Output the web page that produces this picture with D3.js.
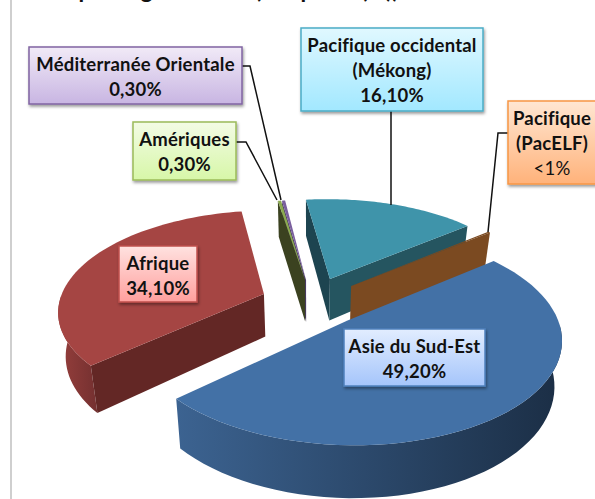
<!DOCTYPE html>
<html>
<head>
<meta charset="utf-8">
<script src="https://cdn.jsdelivr.net/npm/d3@7"></script>
<style>
html,body{margin:0;padding:0;background:#fff;overflow:hidden}
text{font-family:Lato,sans-serif;fill:#111;font-weight:700;text-anchor:middle}
</style>
</head>
<body>
<div id="container"></div>
<script>
var w = 595, h = 499;

var regions = ["Asie du Sud-Est","Afrique","Amériques","Méditerranée Orientale","Pacifique occidental","Pacifique (PacELF)"];
var values = [49.2, 34.1, 0.3, 0.3, 16.1, 0.2];
var valueLabels = ["49,20%","34,10%","0,30%","0,30%","16,10%","<1%"];
var titleText = "Cas par région OMS (sur parts (%))";

// colours of each slice: top, radial wall, outer wall left and right
var topColors = ["#4371a6","#a54543","#8cab4f","#7a5f9e","#3f94aa","#7b4a21"];
var wallColors = ["#2c4a6e","#632725","#3b4220","#4a3a66","#255560","#7b4a21"];
var rimLeft = ["#3c6391","#963f3c","#3b4220","#4a3a66","#1d4450","#7b4a21"];
var rimRight = ["#1b2e45","#743030","#3b4220","#4a3a66","#255560","#7b4a21"];

// pull of each slice out of the pie, in pie radii
var explode = [[.178,-.202],[-.228,.062],[-.025,.21],[-.02,.21],[.101,.221],[.206,.146]];

// label boxes
var boxes = [
  {i:0,x:344,y:329,w:141,h:57,lines:["Asie du Sud-Est"],stroke:"#4f81bd",c0:"#e2edff",c1:"#a5c5fb"},
  {i:1,x:119,y:246,w:78,h:56,lines:["Afrique"],stroke:"#c0504d",c0:"#ffe2e0",c1:"#ff9f9d"},
  {i:2,x:133,y:122,w:103,h:58,lines:["Amériques"],stroke:"#9bbb59",c0:"#f3fbe5",c1:"#d7f7a8"},
  {i:3,x:29,y:47,w:213,h:57,lines:["Méditerranée Orientale"],stroke:"#8064a2",c0:"#f1eaf7",c1:"#c8b5e2"},
  {i:4,x:301,y:28,w:182,h:83,lines:["Pacifique occidental","(Mékong)"],stroke:"#4bacc6",c0:"#e0f8ff",c1:"#a2e8ff"},
  {i:5,x:508,y:101,w:88,h:83,lines:["Pacifique","(PacELF)"],stroke:"#f79646",c0:"#ffe7d3",c1:"#ffb27a"}
];
var leaders = [
  [[242,66],[250,66],[281,200]],
  [[236,142],[246,142],[277,200]],
  [[391,111],[391,205]],
  [[508,133],[498,133],[488,232]]
];

var svg = d3.select("div#container").append("svg").attr("width", w).attr("height", h);
var defs = svg.append("defs");

defs.append("filter").attr("id","shadow").attr("x","-10%").attr("y","-10%").attr("width","120%").attr("height","130%")
  .append("feDropShadow").attr("dx",1).attr("dy",2).attr("stdDeviation",1.5).attr("flood-color","#000").attr("flood-opacity",.4);

// frame line at the left and the title cut by the top of the page
svg.append("rect").attr("x",10).attr("y",0).attr("width",2).attr("height",h).attr("fill","#cfcfcf");
svg.append("text").attr("x",33).attr("y",-2).style("font-size","23px").style("word-spacing","3px").style("text-anchor","start").text(titleText);

var slices = d3.pie().sort(null).value(function(d){return d;})(values);

// perspective of the pie plane
var Xc = 310, Yc = 300, A = 204.05, B = 98.26, persp = .1556, turn = .897, depth = 43, lean = .97;
function proj(u, v, drop){
  var s = 1/(1+persp*v);
  var x = A*u*s;
  return drop ? [Xc+x*lean, Yc-B*v*s+depth*s] : [Xc+x, Yc-B*v*s];
}
function rim(i, ang, drop){
  return proj(explode[i][0]+Math.sin(ang+turn), explode[i][1]+Math.cos(ang+turn), drop);
}
function apex(i, drop){ return proj(explode[i][0], explode[i][1], drop); }

var line = d3.line();

[3,2,4,5,1,0].forEach(function(i){
  var d = slices[i];
  var angles = d3.range(0,61).map(function(j){ return d.startAngle+(d.endAngle-d.startAngle)*j/60; });

  // outer wall, only where it faces the viewer
  var front = angles.filter(function(a){ return Math.cos(a+turn) < 0; });
  if (front.length > 1) {
    defs.append("linearGradient").attr("id","rim"+i)
      .selectAll("stop").data([rimLeft[i],rimRight[i]]).enter().append("stop")
      .attr("offset",function(c,k){return k;}).attr("stop-color",function(c){return c;});
    var upper = front.map(function(a){return rim(i,a,false);});
    var lower = front.slice().reverse().map(function(a){return rim(i,a,true);});
    svg.append("path").attr("d",line(upper.concat(lower))+"Z").attr("fill","url(#rim"+i+")");
  }

  // radial walls, only the ones facing the viewer
  [d.startAngle,d.endAngle].forEach(function(a,k){
    var s = Math.sin(a+turn);
    if (k==0 ? s<0 : s>0) {
      svg.append("path")
        .attr("d",line([apex(i,false),rim(i,a,false),rim(i,a,true),apex(i,true)])+"Z")
        .attr("fill",(i==4&&k==0) ? rimLeft[i] : wallColors[i]);
    }
  });

  svg.append("path")
    .attr("d",line([apex(i,false)].concat(angles.map(function(a){return rim(i,a,false);})))+"Z")
    .attr("fill",topColors[i]);
});

// leader lines
svg.selectAll("path.leader").data(leaders).enter().append("path").attr("class","leader")
  .attr("d",function(d){return line(d);}).attr("fill","none").attr("stroke","#111").attr("stroke-width",1.5);

// label boxes
boxes.forEach(function(b,n){
  var grad = defs.append("linearGradient").attr("id","box"+n).attr("x1",0).attr("x2",0).attr("y1",0).attr("y2",1);
  grad.append("stop").attr("offset",0).attr("stop-color",b.c0);
  grad.append("stop").attr("offset",1).attr("stop-color",b.c1);
  var g = svg.append("g");
  g.append("rect").attr("x",b.x).attr("y",b.y).attr("width",b.w).attr("height",b.h)
    .attr("fill","url(#box"+n+")").attr("stroke",b.stroke).attr("stroke-width",1.5).attr("filter","url(#shadow)");
  b.lines.concat([valueLabels[b.i]]).forEach(function(t,k){
    g.append("text").attr("x",b.x+b.w/2).attr("y",b.y+23.5+k*25)
      .style("font-size","18.5px")
      .style("letter-spacing","0.2px")
      .style("font-weight",t=="<1%" ? 400 : 700)
      .text(t);
  });
});
</script>
</body>
</html>
